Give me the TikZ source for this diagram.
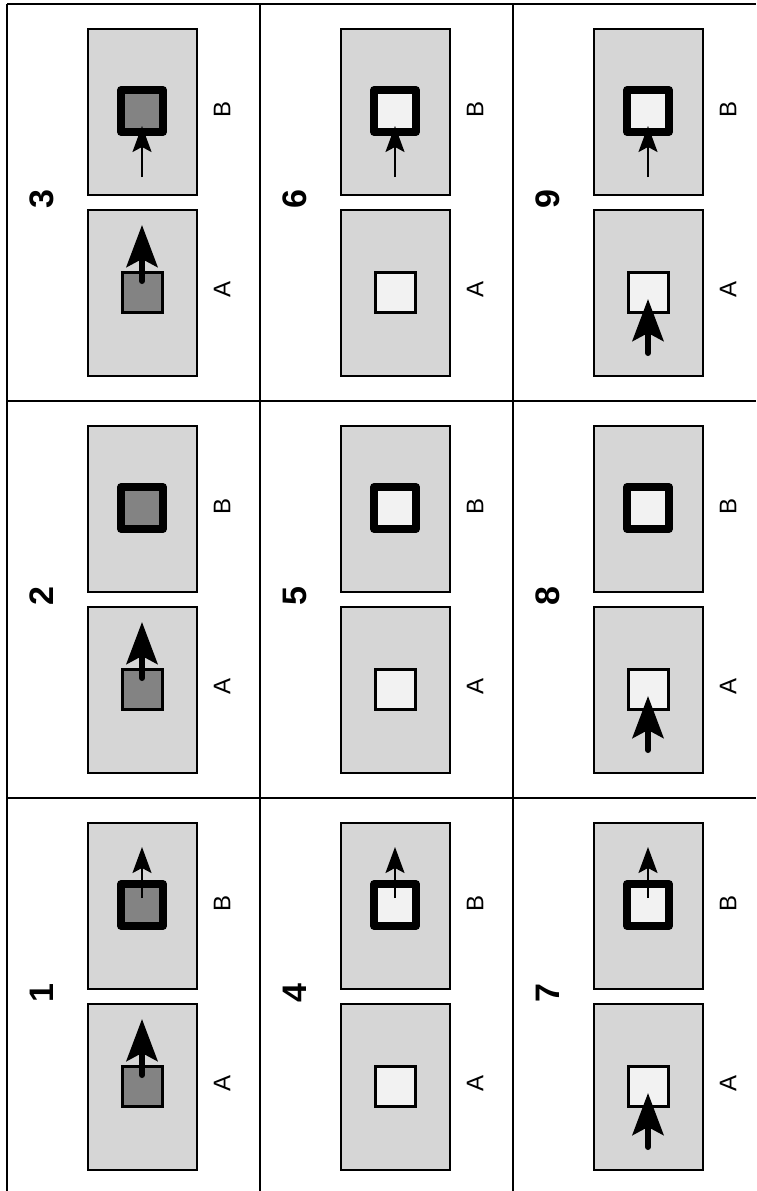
\documentclass[tikz,border=0pt]{standalone}
\usepackage{fontspec}
\setmainfont{Liberation Sans}
\usetikzlibrary{arrows.meta}
\definecolor{boxgray}{HTML}{D6D6D6}
\definecolor{darkfill}{HTML}{838383}
\definecolor{lightfill}{HTML}{F2F2F2}
\tikzset{
 panel/.style={draw=black, line width=1.5pt, fill=boxgray, minimum width=109pt, minimum height=166pt, inner sep=0pt},
 smallsq/.style={draw=black, line width=3pt, minimum size=40pt, inner sep=0pt},
 bigsq/.style={draw=black, line width=7.5pt, minimum size=42pt, inner sep=0pt, line join=round},
 fatarrow/.style={line width=6pt, line cap=round, -{Stealth[length=42pt,width=31pt,inset=8pt]}},
 thinarrow/.style={line width=2pt, -{Stealth[length=26pt,width=19pt,inset=5pt]}},
 numlabel/.style={font=\bfseries\fontsize{34}{34}\selectfont, rotate=90, inner sep=0pt},
 ablabel/.style={font=\fontsize{24}{24}\selectfont, rotate=90, inner sep=0pt},
 gridline/.style={line width=2pt}
}
\newcommand\drawcell[4]{%
 \node[panel] (pB#1) at (#2+135.5, #3+108) {};
 \node[panel] (pA#1) at (#2+135.5, #3+289) {};
 \node[bigsq, fill=#4] (sB#1) at (#2+135, #3+107) {};
 \node[smallsq, fill=#4] (sA#1) at (#2+135, #3+288) {};
 \node[numlabel] (n#1) at (#2+35, #3+195) {#1};
 \node[ablabel] (lB#1) at (#2+215, #3+105) {B};
 \node[ablabel] (lA#1) at (#2+215, #3+285) {A};
}
\newcommand\Aout[1]{%
 \coordinate (aoT#1) at ([yshift=11pt]sA#1.center);
 \coordinate (aoH#1) at ([yshift=67pt]sA#1.center);
 \draw[fatarrow] (aoT#1) -- (aoH#1);}
\newcommand\Ain[1]{%
 \coordinate (aiT#1) at ([yshift=-61pt]sA#1.center);
 \coordinate (aiH#1) at ([yshift=-7pt]sA#1.center);
 \draw[fatarrow] (aiT#1) -- (aiH#1);}
\newcommand\Bout[1]{%
 \coordinate (boT#1) at ([yshift=7pt]sB#1.center);
 \coordinate (boH#1) at ([yshift=58pt]sB#1.center);
 \draw[thinarrow] (boT#1) -- (boH#1);}
\newcommand\Bin[1]{%
 \coordinate (biT#1) at ([yshift=-66pt]sB#1.center);
 \coordinate (biH#1) at ([yshift=-15pt]sB#1.center);
 \draw[thinarrow] (biT#1) -- (biH#1);}
\begin{document}
\begin{tikzpicture}[x=1pt,y=-1pt]
\useasboundingbox (0,0) rectangle (756,1191);
% grid
\coordinate (h1l) at (7,4);   \coordinate (h1r) at (756,4);
\coordinate (h2l) at (7,401); \coordinate (h2r) at (756,401);
\coordinate (h3l) at (7,798); \coordinate (h3r) at (756,798);
\coordinate (v1t) at (7,4);   \coordinate (v1b) at (7,1191);
\coordinate (v2t) at (260,4); \coordinate (v2b) at (260,1191);
\coordinate (v3t) at (513,4); \coordinate (v3b) at (513,1191);
\draw[gridline] (h1l) -- (h1r);
\draw[gridline] (h2l) -- (h2r);
\draw[gridline] (h3l) -- (h3r);
\draw[gridline] (v1t) -- (v1b);
\draw[gridline] (v2t) -- (v2b);
\draw[gridline] (v3t) -- (v3b);
% cells
\drawcell{1}{7}{798}{darkfill}
\drawcell{2}{7}{401}{darkfill}
\drawcell{3}{7}{4}{darkfill}
\drawcell{4}{260}{798}{lightfill}
\drawcell{5}{260}{401}{lightfill}
\drawcell{6}{260}{4}{lightfill}
\drawcell{7}{513}{798}{lightfill}
\drawcell{8}{513}{401}{lightfill}
\drawcell{9}{513}{4}{lightfill}
% arrows
\Aout{1}\Aout{2}\Aout{3}
\Ain{7}\Ain{8}\Ain{9}
\Bout{1}\Bout{4}\Bout{7}
\Bin{3}\Bin{6}\Bin{9}
\end{tikzpicture}
\end{document}
